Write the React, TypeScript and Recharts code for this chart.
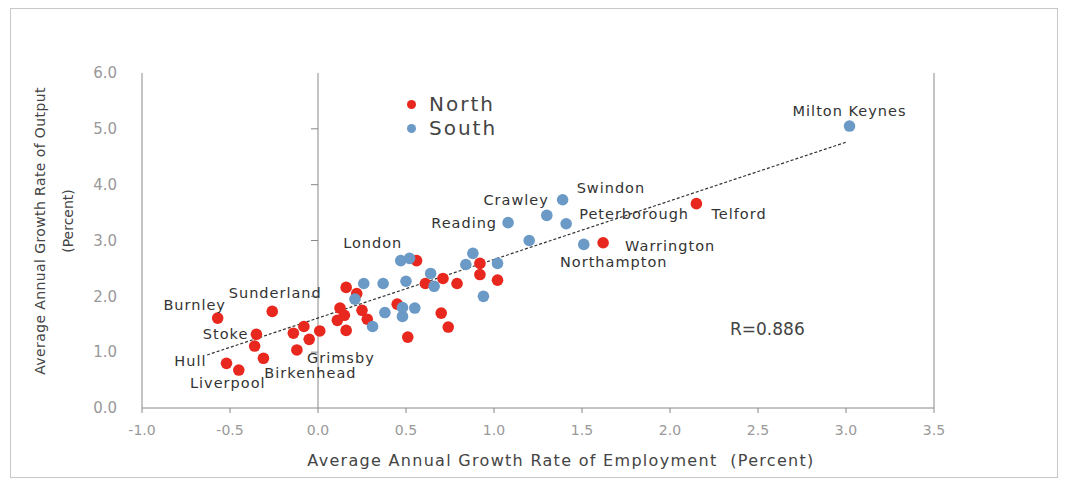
import React from "react"
import {
    ScatterChart,
    Scatter,
    XAxis,
    YAxis,
    ReferenceLine,
    Legend,
    Label,
} from "recharts"

// [employment growth, output growth, city]
const northPoints: [number, number, string][] = [
    [-0.57, 1.61, "Burnley"],
    [-0.26, 1.73, "Sunderland"],
    [-0.35, 1.32, "Stoke"],
    [-0.36, 1.11, ""],
    [-0.31, 0.89, "Birkenhead"],
    [-0.52, 0.8, "Hull"],
    [-0.45, 0.68, "Liverpool"],
    [-0.14, 1.34, ""],
    [-0.08, 1.46, ""],
    [0.01, 1.38, ""],
    [-0.05, 1.23, ""],
    [-0.12, 1.04, "Grimsby"],
    [0.16, 2.16, ""],
    [0.22, 2.05, ""],
    [0.125, 1.79, ""],
    [0.25, 1.75, ""],
    [0.45, 1.86, ""],
    [0.11, 1.57, ""],
    [0.15, 1.66, ""],
    [0.28, 1.59, ""],
    [0.16, 1.39, ""],
    [0.7, 1.7, ""],
    [0.74, 1.45, ""],
    [0.51, 1.27, ""],
    [0.56, 2.64, ""],
    [0.92, 2.59, ""],
    [0.92, 2.39, ""],
    [1.02, 2.29, ""],
    [0.71, 2.32, ""],
    [0.79, 2.23, ""],
    [0.61, 2.23, ""],
    [1.62, 2.96, "Warrington"],
    [2.15, 3.66, "Telford"],
]

const southPoints: [number, number, string][] = [
    [0.47, 2.64, "London"],
    [0.52, 2.68, ""],
    [0.88, 2.77, ""],
    [0.84, 2.57, ""],
    [1.02, 2.59, ""],
    [0.94, 2.0, ""],
    [0.64, 2.41, ""],
    [0.66, 2.18, ""],
    [0.5, 2.27, ""],
    [0.37, 2.23, ""],
    [0.26, 2.23, ""],
    [0.21, 1.95, ""],
    [0.48, 1.8, ""],
    [0.55, 1.79, ""],
    [0.38, 1.71, ""],
    [0.48, 1.64, ""],
    [0.31, 1.46, ""],
    [1.39, 3.73, "Swindon"],
    [1.3, 3.45, "Crawley"],
    [1.41, 3.3, "Peterborough"],
    [1.08, 3.32, "Reading"],
    [1.2, 3.0, ""],
    [1.51, 2.93, "Northampton"],
    [3.02, 5.05, "Milton Keynes"],
]

const trendLine = [
    { x: -0.63, y: 0.95 },
    { x: 3.0, y: 4.76 },
]

const xTicks = [-1, -0.5, 0, 0.5, 1, 1.5, 2, 2.5, 3, 3.5]
const yTicks = [0, 1, 2, 3, 4, 5, 6]
const innerTicks = [1, 2, 3, 4, 5]
const rValue = "R=0.886"

const NORTH = "#e8281e"
const SOUTH = "#6b9ac6"
const FONT = "DejaVu Sans"

// label placement relative to each dot (px)
const labelPos: Record<string, { dx: number; dy: number; anchor: "start" | "middle" | "end" }> = {
    Burnley: { dx: -23, dy: -13, anchor: "middle" },
    Sunderland: { dx: 3, dy: -18, anchor: "middle" },
    Stoke: { dx: -8, dy: 0, anchor: "end" },
    Hull: { dx: -20, dy: -2, anchor: "end" },
    Liverpool: { dx: -11, dy: 13, anchor: "middle" },
    Grimsby: { dx: 44, dy: 8, anchor: "middle" },
    Birkenhead: { dx: 47, dy: 15, anchor: "middle" },
    London: { dx: -28, dy: -18, anchor: "middle" },
    Reading: { dx: -11, dy: 0, anchor: "end" },
    Crawley: { dx: 2, dy: -15, anchor: "end" },
    Swindon: { dx: 14, dy: -12, anchor: "start" },
    Peterborough: { dx: 13, dy: -10, anchor: "start" },
    Northampton: { dx: 30, dy: 18, anchor: "middle" },
    Warrington: { dx: 22, dy: 3, anchor: "start" },
    Telford: { dx: 15, dy: 10, anchor: "start" },
    "Milton Keynes": { dx: 0, dy: -15, anchor: "middle" },
}

const toRows = (pts: [number, number, string][]) =>
    pts.map(([x, y, name]) => ({ x, y, name }))

const northData = toRows(northPoints)
const southData = toRows(southPoints)

const makeDot = (color: string) => (props: any) => {
    const { cx, cy, payload } = props
    const pos = payload?.name ? labelPos[payload.name] : undefined
    return (
        <g>
            <circle cx={cx} cy={cy} r={5.8} fill={color} />
            {pos && (
                <text
                    x={cx + pos.dx}
                    y={cy + pos.dy}
                    textAnchor={pos.anchor}
                    dominantBaseline="central"
                    fontFamily={FONT}
                    fontSize={14.5}
                    letterSpacing={1}
                    fill="#333"
                >
                    {payload.name}
                </text>
            )}
        </g>
    )
}

const legendItems = [
    { name: "North", color: NORTH },
    { name: "South", color: SOUTH },
]

const LegendBox = () => (
    <div style={{ fontFamily: FONT }}>
        {legendItems.map((item) => (
            <div
                key={item.name}
                style={{ display: "flex", alignItems: "center", height: 24 }}
            >
                <span
                    style={{
                        width: 9,
                        height: 9,
                        borderRadius: "50%",
                        background: item.color,
                        display: "inline-block",
                        marginRight: 13,
                    }}
                />
                <span style={{ fontSize: 20, color: "#444", letterSpacing: 2 }}>
                    {item.name}
                </span>
            </div>
        ))}
    </div>
)

const YTitle = () => {
    const cy = 222
    return (
        <g fontFamily={FONT} fontSize={14} fill="#444">
            <text
                x={29}
                y={cy}
                textAnchor="middle"
                dominantBaseline="central"
                letterSpacing={0.4}
                transform={`rotate(-90 29 ${cy})`}
            >
                Average Annual Growth Rate of Output
            </text>
            <text
                x={57}
                y={cy - 10}
                textAnchor="middle"
                dominantBaseline="central"
                transform={`rotate(-90 57 ${cy - 10})`}
            >
                (Percent)
            </text>
        </g>
    )
}

const XTitle = () => (
    <text
        x={550}
        y={451}
        textAnchor="middle"
        dominantBaseline="central"
        fontFamily={FONT}
        fontSize={16}
        letterSpacing={1.3}
        fill="#444"
    >
        {"Average Annual Growth Rate of Employment\u00a0\u00a0(Percent)"}
    </text>
)

export default function App() {
    return (
        <div
            style={{
                position: "relative",
                width: 1046,
                height: 468,
                border: "1px solid #c8c8c8",
                marginLeft: 2,
                fontFamily: FONT,
            }}
        >
            <ScatterChart
                width={1046}
                height={468}
                margin={{ top: 64, right: 123, bottom: 39, left: 71 }}
            >
                <XAxis
                    type="number"
                    dataKey="x"
                    domain={[-1, 3.5]}
                    ticks={xTicks}
                    tickFormatter={(v: number) => v.toFixed(1)}
                    allowDataOverflow
                    height={30}
                    stroke="#888"
                    tickSize={5}
                    tickMargin={12}
                    tick={{ fill: "#999", fontSize: 14, fontFamily: FONT }}
                >
                    <Label content={XTitle} />
                </XAxis>
                <YAxis
                    type="number"
                    dataKey="y"
                    domain={[0, 6]}
                    ticks={yTicks}
                    tickFormatter={(v: number) => v.toFixed(1)}
                    allowDataOverflow
                    width={60}
                    stroke="#888"
                    tickLine={false}
                    tickSize={0}
                    tickMargin={25}
                    tick={{ fill: "#999", fontSize: 15, fontFamily: FONT }}
                >
                    <Label content={YTitle} />
                </YAxis>
                <ReferenceLine x={0} stroke="#888" />
                <ReferenceLine x={3.5} stroke="#888" />
                {innerTicks.map((t) => (
                    <ReferenceLine
                        key={t}
                        segment={[
                            { x: -0.04, y: t },
                            { x: 0, y: t },
                        ]}
                        stroke="#888"
                    />
                ))}
                <ReferenceLine
                    segment={trendLine}
                    stroke="#333"
                    strokeWidth={1.2}
                    strokeDasharray="3 2"
                />
                <Legend
                    layout="vertical"
                    align="center"
                    verticalAlign="middle"
                    content={LegendBox}
                    wrapperStyle={{ left: 396, top: 83, width: "auto" }}
                />
                <Scatter
                    name="North"
                    data={northData}
                    fill={NORTH}
                    shape={makeDot(NORTH)}
                    isAnimationActive={false}
                />
                <Scatter
                    name="South"
                    data={southData}
                    fill={SOUTH}
                    shape={makeDot(SOUTH)}
                    isAnimationActive={false}
                />
            </ScatterChart>
            <div
                style={{
                    position: "absolute",
                    left: 719,
                    top: 309,
                    fontSize: 17,
                    color: "#444",
                    fontFamily: FONT,
                    lineHeight: "22px",
                }}
            >
                {rValue}
            </div>
        </div>
    )
}
